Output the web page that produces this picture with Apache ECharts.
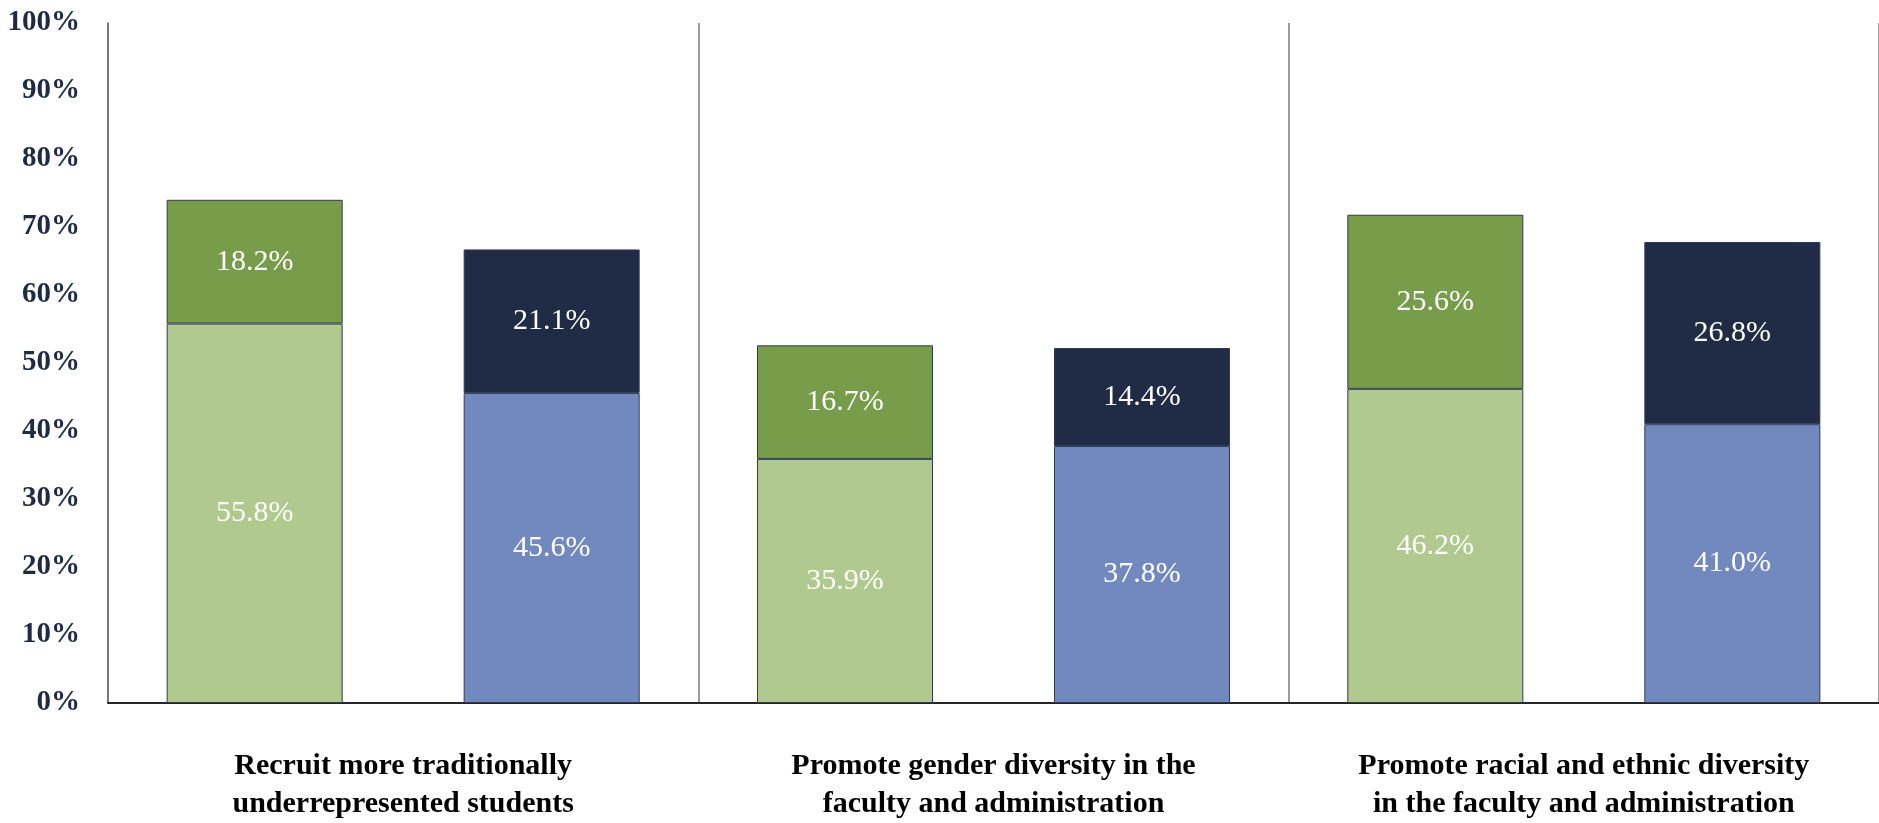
<!DOCTYPE html>
<html>
<head>
<meta charset="utf-8">
<script src="https://cdn.jsdelivr.net/npm/echarts@6/dist/echarts.min.js"></script>
<style>
  html, body { margin: 0; padding: 0; background: #fff; }
  #chart { width: 1879px; height: 823px; }
</style>
</head>
<body>
<div id="chart"></div>
<script>
// categories
const categories = [
  "Recruit more traditionally\nunderrepresented students",
  "Promote gender diversity in the\nfaculty and administration",
  "Promote racial and ethnic diversity\nin the faculty and administration"
];
// green stack
const greenBase = [55.8, 35.9, 46.2];
const greenTop = [18.2, 16.7, 25.6];
// blue stack
const blueBase = [45.6, 37.8, 41.0];
const blueTop = [21.1, 14.4, 26.8];

const serif = "'Liberation Serif', 'DejaVu Serif', serif";

const chart = echarts.init(document.getElementById("chart"));

function barSeries(name, data, stack, color) {
  return {
    name: name,
    type: "bar",
    stack: stack,
    data: data,
    barWidth: 176,
    barGap: "68.75%",
    itemStyle: {
      color: color,
      borderColor: "#2f3a55",
      borderWidth: 1,
    },
    label: {
      show: true,
      position: "inside",
      color: "#ffffff",
      fontFamily: serif,
      fontSize: 30,
      formatter: p => p.value.toFixed(1) + "%",
    },
  };
}

chart.setOption({
  animation: false,
  grid: {
    left: 108,
    top: 23,
    width: 1776,
    bottom: 119,
  },
  xAxis: {
    type: "category",
    data: categories,
    axisLine: { lineStyle: { color: "#262626", width: 2 } },
    axisTick: { show: false },
    axisLabel: {
      interval: 0,
      margin: 44,
      color: "#000000",
      fontFamily: serif,
      fontWeight: "bold",
      fontSize: 30,
      lineHeight: 38,
    },
    splitLine: {
      show: true,
      interval: 0,
      lineStyle: { color: "#7a7a7a", width: 1.5 },
    },
  },
  yAxis: {
    type: "value",
    min: 0,
    max: 100,
    interval: 10,
    axisLine: { show: true, lineStyle: { color: "#6a6a6a", width: 1.5 } },
    axisTick: { show: false },
    splitLine: { show: false },
    axisLabel: {
      margin: 28,
      formatter: "{value}%",
      color: "#1f2a44",
      fontFamily: serif,
      fontWeight: "bold",
      fontSize: 29,
    },
  },
  series: [
    barSeries("Green base", greenBase, "green", "#b0c98e"),
    barSeries("Green top", greenTop, "green", "#789d4a"),
    barSeries("Blue base", blueBase, "blue", "#7289bf"),
    barSeries("Blue top", blueTop, "blue", "#202b46"),
  ],
});
</script>
</body>
</html>
